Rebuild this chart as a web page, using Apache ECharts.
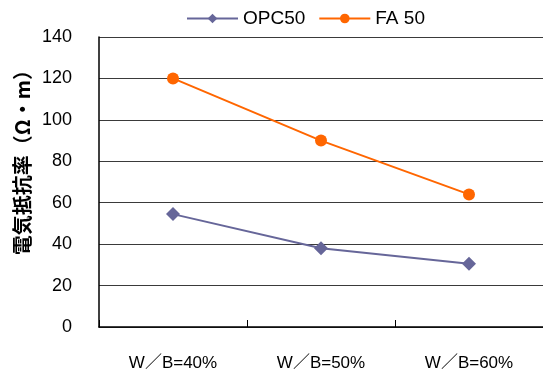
<!DOCTYPE html>
<html>
<head>
<meta charset="utf-8">
<script src="https://cdn.jsdelivr.net/npm/echarts@6/dist/echarts.min.js"></script>
<style>
  html, body { margin: 0; padding: 0; background: #fff; }
  #chart { width: 543px; height: 379px; }
</style>
</head>
<body>
<div id="chart"></div>
<script>
// Water/binder ratio categories
const categories = ['W／B=40%', 'W／B=50%', 'W／B=60%'];
// Electrical resistivity (Ω·m)
const opc50 = [54.5, 38, 30.5];
const fa50 = [120, 90, 64];
const yTicks = { min: 0, max: 140, interval: 20 };

const numFont = '"Liberation Sans", Arial, "Noto Sans CJK JP", sans-serif';

const chart = echarts.init(document.getElementById('chart'), null, { renderer: 'canvas' });

chart.setOption({
  animation: false,
  backgroundColor: '#ffffff',
  grid: { left: 99, top: 37, right: 0, bottom: 52, containLabel: false },
  legend: {
    top: 4,
    left: 181,
    itemWidth: 51,
    itemHeight: 12,
    itemGap: 13,
    textStyle: { fontFamily: numFont, fontSize: 19, color: '#000' },
    data: ['OPC50', 'FA 50']
  },
  xAxis: {
    type: 'category',
    data: categories,
    axisLine: { lineStyle: { color: '#000', width: 1.5 } },
    axisTick: { show: true, inside: true, length: 7, lineStyle: { color: '#000' } },
    axisLabel: { margin: 28, fontFamily: numFont, fontSize: 17, color: '#000' },
    splitLine: { show: false }
  },
  yAxis: {
    type: 'value',
    min: yTicks.min,
    max: yTicks.max,
    interval: yTicks.interval,
    axisLine: { show: true, lineStyle: { color: '#000', width: 1.5 } },
    axisTick: { show: false },
    axisLabel: { margin: 27, padding: [6, 0, 0, 0], fontFamily: numFont, fontSize: 18, color: '#000' },
    splitLine: { show: true, lineStyle: { color: '#3a3a3a', width: 1 } }
  },
  graphic: [{
    type: 'text',
    left: 12,
    top: 60,
    rotation: Math.PI / 2,
    style: {
      text: '電気抵抗率（Ω・m）',
      font: 'bold 20px "Noto Sans CJK JP", sans-serif',
      fill: '#000'
    }
  }],
  series: [
    {
      name: 'OPC50',
      type: 'line',
      data: opc50,
      symbol: 'diamond',
      symbolSize: 14,
      lineStyle: { color: '#666699', width: 2 },
      itemStyle: { color: '#666699' }
    },
    {
      name: 'FA 50',
      type: 'line',
      data: fa50,
      symbol: 'circle',
      symbolSize: 12,
      lineStyle: { color: '#ff6600', width: 2 },
      itemStyle: { color: '#ff6600' }
    }
  ]
});
</script>
</body>
</html>
